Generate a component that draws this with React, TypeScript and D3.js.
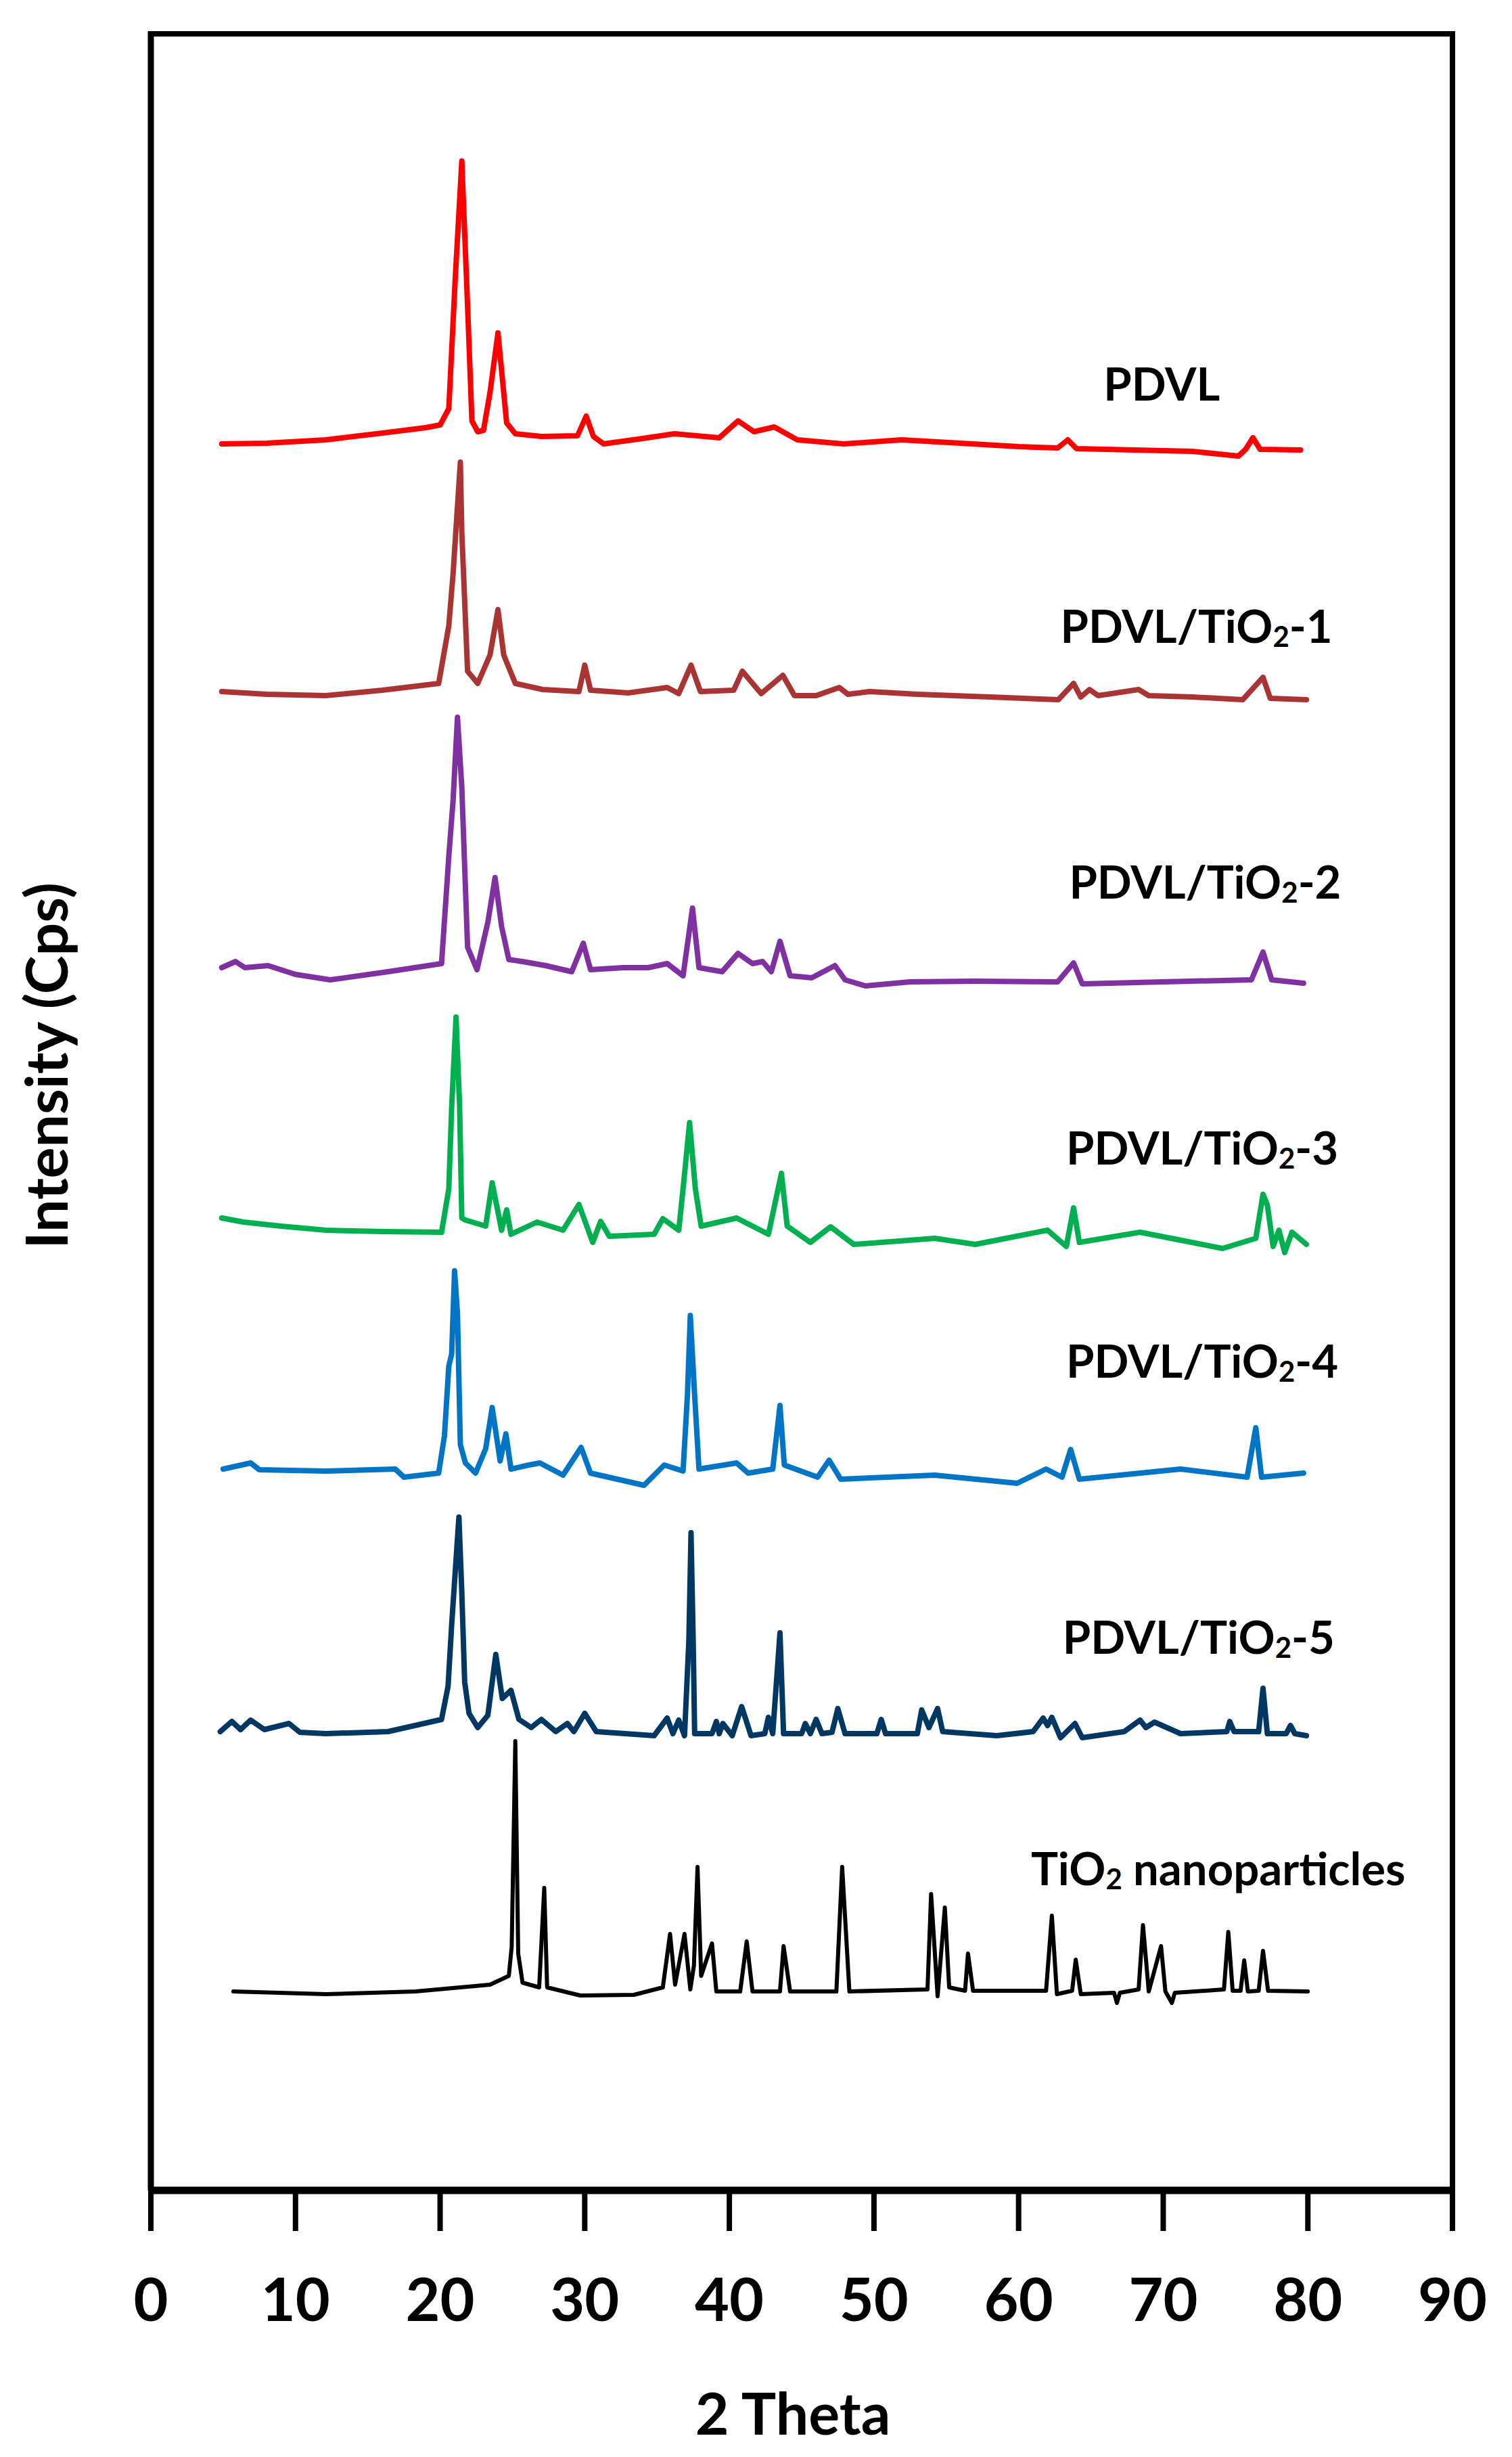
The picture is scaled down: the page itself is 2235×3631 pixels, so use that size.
import React from "react"
import * as d3 from "d3"

type Pt = [number, number]

// [2θ (deg), intensity above the trace baseline (a.u.)]
const pdvl: Pt[] = [
  [4.9, 4], [8.0, 5], [12.1, 10], [16.0, 20], [19.0, 28], [20.0, 32], [20.6, 56],
  [21.05, 250], [21.5, 422], [21.9, 207], [22.2, 38], [22.6, 22], [23.0, 24],
  [23.45, 80], [24.0, 168], [24.6, 35], [25.2, 19], [27.0, 15], [29.5, 16],
  [30.1, 45], [30.6, 15], [31.3, 4], [34.0, 12], [36.2, 19], [39.3, 13],
  [40.6, 38], [41.7, 22], [43.1, 29], [44.7, 10], [47.9, 4], [51.9, 10],
  [56.0, 5], [60.0, 0], [62.7, -2], [63.4, 10], [64.0, -3], [68.0, -5],
  [72.0, -7], [75.2, -14], [75.7, -4], [76.2, 13], [76.7, -4], [79.5, -5],
]

const pdvlTi1: Pt[] = [
  [4.9, 8], [8.0, 4], [12.1, 2], [16.0, 10], [19.9, 20], [20.6, 105], [20.9, 183],
  [21.4, 347], [21.5, 244], [21.9, 38], [22.6, 20], [23.45, 62], [24.0, 129],
  [24.4, 62], [25.2, 20], [27.1, 11], [29.6, 8], [30.0, 47], [30.4, 10],
  [33.0, 6], [35.7, 14], [36.5, 5], [37.35, 47], [38.0, 8], [40.3, 10],
  [40.9, 38], [42.2, 5], [43.7, 32], [44.5, 2], [46.0, 2], [47.6, 14],
  [48.2, 4], [49.7, 8], [53.0, 4], [58.0, 0], [62.75, -4], [63.8, 20],
  [64.3, 0], [64.9, 11], [65.5, 2], [68.3, 11], [69.0, 2], [72.0, 0],
  [75.5, -4], [76.9, 29], [77.4, -2], [79.9, -4],
]

const pdvlTi2: Pt[] = [
  [4.9, 20], [5.85, 29], [6.5, 20], [8.1, 23], [10.0, 10], [12.4, 2], [16.4, 14],
  [20.1, 26], [20.6, 184], [20.9, 268], [21.2, 390], [21.5, 287], [21.9, 50],
  [22.55, 17], [23.3, 87], [23.8, 153], [24.25, 81], [24.75, 32], [25.7, 29],
  [27.3, 23], [29.1, 14], [29.9, 56], [30.4, 17], [32.7, 20], [34.4, 20],
  [35.7, 26], [36.8, 8], [37.45, 108], [37.9, 20], [39.5, 14], [40.6, 41],
  [41.6, 26], [42.3, 29], [42.9, 14], [43.5, 59], [44.2, 8], [45.7, 5],
  [47.3, 23], [48.0, 2], [49.4, -7], [52.5, -1], [57.0, 0], [62.7, -1],
  [63.8, 27], [64.4, -4], [70.0, -1], [76.1, 2], [76.9, 43], [77.5, 2], [79.7, -3],
]

const pdvlTi3: Pt[] = [
  [4.9, 30], [6.4, 24], [9.0, 18], [12.1, 12], [16.0, 10], [20.1, 9], [20.6, 73],
  [20.8, 194], [21.1, 327], [21.35, 194], [21.5, 30], [21.75, 27], [23.15, 18],
  [23.6, 82], [24.25, 12], [24.6, 42], [24.9, 6], [26.7, 24], [28.5, 12],
  [29.6, 50], [30.55, -6], [31.1, 25], [31.7, 3], [34.8, 6], [35.4, 29],
  [36.5, 12], [36.8, 73], [37.25, 171], [37.65, 73], [38.05, 18], [40.5, 30],
  [42.7, 6], [43.6, 96], [44.0, 18], [45.6, -6], [47.0, 17], [48.6, -9],
  [54.2, 0], [57.0, -9], [62.0, 12], [63.3, -12], [63.8, 45], [64.2, -6],
  [68.4, 9], [74.1, -15], [76.4, 0], [76.9, 65], [77.2, 49], [77.6, -12],
  [78.0, 12], [78.4, -21], [78.9, 9], [79.9, -9],
]

const pdvlTi4: Pt[] = [
  [5.0, 9], [6.9, 18], [7.5, 8], [12.1, 6], [16.9, 9], [17.5, -3], [19.9, 3],
  [20.3, 58], [20.6, 161], [20.8, 179], [21.0, 302], [21.2, 239], [21.4, 45],
  [21.75, 18], [22.45, 3], [23.15, 39], [23.6, 100], [24.15, 21], [24.55, 61],
  [24.9, 9], [26.15, 15], [26.9, 18], [28.5, 0], [29.75, 41], [30.4, 3],
  [34.1, -15], [35.5, 15], [36.8, 6], [37.1, 118], [37.3, 236], [37.6, 118],
  [37.9, 9], [40.5, 18], [41.3, 3], [43.0, 9], [43.5, 103], [43.8, 15],
  [46.1, -3], [46.9, 22], [47.7, -6], [54.2, 0], [59.9, -12], [61.9, 9],
  [63.0, -3], [63.6, 38], [64.2, -6], [71.2, 9], [75.8, -3], [76.4, 70],
  [76.8, -3], [79.7, 3],
]

const pdvlTi5: Pt[] = [
  [4.8, 6], [5.6, 21], [6.2, 9], [6.9, 23], [7.85, 9], [9.55, 18], [10.3, 5],
  [12.1, 3], [16.4, 6], [20.1, 24], [20.55, 73], [20.8, 164], [21.3, 323],
  [21.5, 212], [21.7, 79], [22.0, 33], [22.6, 12], [23.3, 30], [23.85, 120],
  [24.3, 55], [24.9, 67], [25.45, 24], [26.3, 12], [27.0, 24], [28.0, 6],
  [28.8, 18], [29.25, 6], [30.0, 33], [30.8, 6], [34.8, 0], [35.7, 26],
  [36.1, 3], [36.5, 23], [36.9, 0], [37.2, 140], [37.35, 300], [37.5, 140],
  [37.6, 3], [38.8, 3], [39.1, 21], [39.3, 3], [39.55, 18], [40.2, 0],
  [40.85, 43], [41.5, 0], [42.45, 3], [42.7, 27], [43.0, 3], [43.5, 152],
  [43.75, 3], [45.0, 3], [45.25, 18], [45.6, 3], [46.0, 24], [46.4, 3],
  [47.1, 5], [47.5, 40], [48.0, 3], [50.2, 3], [50.5, 24], [50.8, 3],
  [53.0, 3], [53.3, 38], [53.8, 12], [54.4, 40], [54.75, 6], [58.5, 0],
  [61.0, 6], [61.7, 26], [62.0, 15], [62.3, 27], [62.9, -3], [63.9, 18],
  [64.4, -3], [67.3, 6], [68.4, 23], [68.8, 12], [69.4, 20], [71.2, 3],
  [74.4, 6], [74.6, 21], [74.9, 6], [76.6, 6], [76.9, 70], [77.2, 3],
  [78.5, 3], [78.8, 15], [79.1, 3], [79.9, 0],
]

const tio2: Pt[] = [
  [5.7, 2], [12.1, -2], [18.3, 2], [23.45, 12], [24.75, 25], [24.95, 68],
  [25.2, 372], [25.4, 58], [25.7, 15], [26.85, 8], [27.2, 155], [27.4, 8],
  [29.7, -4], [33.4, -3], [35.4, 8], [35.9, 87], [36.25, 12], [36.9, 87],
  [37.3, 5], [37.55, 40], [37.8, 186], [38.05, 25], [38.8, 73], [39.1, 2],
  [40.75, 2], [41.2, 76], [41.6, 2], [43.5, 2], [43.75, 69], [44.2, 2],
  [47.4, 2], [47.8, 186], [48.3, 2], [53.7, 5], [53.95, 146], [54.4, -5],
  [54.9, 126], [55.2, 8], [56.3, 3], [56.5, 58], [56.85, 3], [61.9, 3],
  [62.3, 114], [62.65, -2], [63.7, 3], [63.95, 49], [64.3, -2], [66.6, 0],
  [66.8, -15], [67.0, 0], [68.3, 5], [68.6, 100], [69.0, 2], [69.85, 69],
  [70.15, 2], [70.6, -15], [70.8, 0], [74.2, 5], [74.5, 90], [74.8, 3],
  [75.35, 3], [75.6, 48], [75.85, 2], [76.6, 3], [76.9, 62], [77.25, 3], [80.0, 2],
]

const seriesData: Pt[][] = [pdvl, pdvlTi1, pdvlTi2, pdvlTi3, pdvlTi4, pdvlTi5, tio2]
const seriesNames = [
  "PDVL", "PDVL/TiO2-1", "PDVL/TiO2-2", "PDVL/TiO2-3",
  "PDVL/TiO2-4", "PDVL/TiO2-5", "TiO2 nanoparticles",
]
const seriesColors = ["#ff0000", "#aa3333", "#7f30a1", "#00b050", "#0075c6", "#003763", "#000000"]
// vertical stacking offset of each pattern (a.u.)
const seriesOffsets = [2577, 2207, 1787, 1407, 1057, 672, 292]
// label centre: [2θ, intensity]
const labelPositions: Pt[] = [
  [69.9, 2645], [72.3, 2287], [72.9, 1909], [72.7, 1516],
  [72.7, 1201], [72.45, 793], [73.8, 451],
]

const xTicks = [0, 10, 20, 30, 40, 50, 60, 70, 80, 90]

const W = 2235
const H = 3631
const left = 223
const right = 2147
const top = 50
const bottom = 3237
const font = "Lato, 'Open Sans', 'DejaVu Sans', sans-serif"

const renderName = (name: string) => {
  const i = name.indexOf("TiO2")
  if (i < 0) return name
  return (
    <>
      {name.slice(0, i + 3)}
      <tspan fontSize={42} dy={6}>2</tspan>
      <tspan dy={-6}>{name.slice(i + 4)}</tspan>
    </>
  )
}

export default function App() {
  const x = d3.scaleLinear().domain([0, 90]).range([left, right])
  const y = d3.scaleLinear().domain([0, 3187]).range([bottom, top])

  return (
    <div style={{ position: "absolute", left: 0, top: 0, width: W, height: H, background: "#fff" }}>
      <svg width={W} height={H} viewBox={`0 0 ${W} ${H}`}>
        <rect x={0} y={0} width={W} height={H} fill="#fff" />

        {seriesData.map((d, i) => {
          const line = d3
            .line<Pt>()
            .x((p) => x(p[0]))
            .y((p) => y(p[1] + seriesOffsets[i]))
          return (
            <path
              key={seriesNames[i]}
              d={line(d) ?? ""}
              fill="none"
              stroke={seriesColors[i]}
              strokeWidth={i === 6 ? 6 : 8}
              strokeLinejoin="round"
              strokeLinecap="round"
            />
          )
        })}

        {/* frame */}
        <line x1={x(0)} x2={x(90)} y1={top} y2={top} stroke="#000" strokeWidth={8} />
        <line x1={x(90)} x2={x(90)} y1={top - 4} y2={bottom} stroke="#000" strokeWidth={8} />
        <line x1={x(0)} x2={x(0)} y1={top - 4} y2={bottom} stroke="#000" strokeWidth={9} />
        <line x1={x(0) - 4} x2={x(90) + 4} y1={bottom} y2={bottom} stroke="#000" strokeWidth={11} />

        {xTicks.map((t) => (
          <g key={t}>
            <line x1={x(t)} x2={x(t)} y1={bottom} y2={bottom + 60} stroke="#000" strokeWidth={8} />
            <text
              x={x(t)}
              y={3430}
              textAnchor="middle"
              fontFamily={font}
              fontWeight={700}
              fontSize={88}
              fill="#000"
            >
              {t}
            </text>
          </g>
        ))}

        <text x={1172} y={3598} textAnchor="middle" fontFamily={font} fontWeight={700} fontSize={86} fill="#000">
          2 Theta
        </text>
        <text
          transform={`translate(100,1575) rotate(-90)`}
          textAnchor="middle"
          fontFamily={font}
          fontWeight={700}
          fontSize={86}
          fill="#000"
        >
          Intensity (Cps)
        </text>

        {seriesNames.map((name, i) => (
          <text
            key={name}
            x={x(labelPositions[i][0])}
            y={y(labelPositions[i][1])}
            textAnchor="middle"
            fontFamily={font}
            fontWeight={700}
            fontSize={67}
            fill="#000"
          >
            {renderName(name)}
          </text>
        ))}
      </svg>
    </div>
  )
}
